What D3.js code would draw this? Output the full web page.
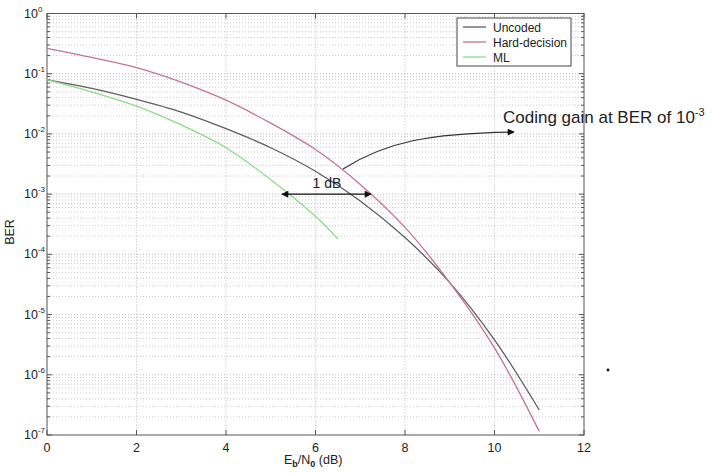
<!DOCTYPE html>
<html>
<head>
<meta charset="utf-8">
<script src="https://cdn.jsdelivr.net/npm/d3@7"></script>
<style>
  body { margin: 0; background: #fff; }
  svg { display: block; }
  text { font-family: "Liberation Sans", Arial, sans-serif; fill: #222; }
</style>
</head>
<body>
<div class="graph-pane"></div>
<script>
// Eb/N0 in dB
var snrDb = [0, 1, 2, 3, 4, 5, 6, 7, 8, 9, 10, 11];
var uncoded = [0.079, 0.057, 0.0375, 0.023, 0.0122, 0.0059, 0.0024, 7.7e-4, 1.9e-4, 3.4e-5, 3.8e-6, 2.6e-7];
var hardDecision = [0.264, 0.186, 0.126, 0.0724, 0.0363, 0.0151, 0.0055, 0.00145, 2.8e-4, 3.4e-5, 2.8e-6, 1.15e-7];
var mlDb = [0, 1, 2, 3, 4, 5, 6, 6.5];
var ml = [0.08, 0.05, 0.029, 0.0141, 0.0059, 0.00174, 4.3e-4, 1.8e-4];

var xTicks = [0, 2, 4, 6, 8, 10, 12];
var yExponents = [0, -1, -2, -3, -4, -5, -6, -7];
var legendNames = ["Uncoded", "Hard-decision", "ML"];
var legendColors = ["#5e5e5e", "#c27590", "#8fd88f"];

var width = 711, height = 475;
// (window.top is reserved, so plot edges get their own names)
var plotLeft = 47, plotRight = 584, plotTop = 13.5, plotBottom = 435;

var xScale = d3.scaleLinear().domain([0, 12]).range([plotLeft, plotRight]);
var yScale = d3.scaleLog().domain([1e-7, 1]).range([plotBottom, plotTop]);

var svg = d3.select(".graph-pane").append("svg")
  .attr("width", width)
  .attr("height", height);

// grid, dotted like matlab
var grid = svg.append("g").attr("stroke", "#bdbdbd").attr("stroke-width", 0.8)
  .attr("stroke-dasharray", "1,2");

var minorVals = [];
yExponents.slice(0, -1).forEach(function (e) {
  for (var m = 2; m <= 9; m++) minorVals.push(m * Math.pow(10, e - 1));
});

grid.selectAll(".ymin").data(minorVals).enter().append("line")
  .attr("x1", plotLeft).attr("x2", plotRight)
  .attr("y1", function (d) { return yScale(d); })
  .attr("y2", function (d) { return yScale(d); });

grid.selectAll(".ymaj").data(yExponents.slice(1, -1)).enter().append("line")
  .attr("x1", plotLeft).attr("x2", plotRight)
  .attr("y1", function (d) { return yScale(Math.pow(10, d)); })
  .attr("y2", function (d) { return yScale(Math.pow(10, d)); })
  .attr("stroke", "#a8a8a8");

grid.selectAll(".xmaj").data(xTicks.slice(1, -1)).enter().append("line")
  .attr("y1", plotTop).attr("y2", plotBottom)
  .attr("x1", function (d) { return xScale(d); })
  .attr("x2", function (d) { return xScale(d); })
  .attr("stroke", "#a8a8a8");

// frame + inward ticks
var frame = svg.append("g").attr("stroke", "#555").attr("stroke-width", 1).attr("fill", "none");
frame.append("rect").attr("x", plotLeft).attr("y", plotTop)
  .attr("width", plotRight - plotLeft).attr("height", plotBottom - plotTop);

xTicks.forEach(function (t) {
  var px = xScale(t);
  frame.append("line").attr("x1", px).attr("x2", px).attr("y1", plotBottom).attr("y2", plotBottom - 5);
  frame.append("line").attr("x1", px).attr("x2", px).attr("y1", plotTop).attr("y2", plotTop + 5);
});
yExponents.forEach(function (e) {
  var py = yScale(Math.pow(10, e));
  frame.append("line").attr("x1", plotLeft).attr("x2", plotLeft + 5).attr("y1", py).attr("y2", py);
  frame.append("line").attr("x1", plotRight).attr("x2", plotRight - 5).attr("y1", py).attr("y2", py);
});
minorVals.forEach(function (v) {
  var py = yScale(v);
  frame.append("line").attr("x1", plotLeft).attr("x2", plotLeft + 3).attr("y1", py).attr("y2", py);
  frame.append("line").attr("x1", plotRight).attr("x2", plotRight - 3).attr("y1", py).attr("y2", py);
});

// tick labels
svg.selectAll(".xt").data(xTicks).enter().append("text")
  .attr("x", function (d) { return xScale(d); })
  .attr("y", 452)
  .attr("text-anchor", "middle")
  .attr("font-size", 12.5)
  .text(function (d) { return d; });

var yt = svg.selectAll(".yt").data(yExponents).enter().append("text")
  .attr("x", 24)
  .attr("y", function (d) { return yScale(Math.pow(10, d)) + 4; })
  .attr("font-size", 12.5);
yt.append("tspan").text("10");
yt.append("tspan").attr("dy", -6).attr("font-size", 8)
  .text(function (d) { return d === 0 ? "0" : "-" + (-d); });

// axis titles
svg.append("text")
  .attr("transform", "translate(14," + 232 + ") rotate(-90)")
  .attr("text-anchor", "middle")
  .attr("font-size", 12.5)
  .text("BER");

var xl = svg.append("text").attr("x", 284).attr("y", 464).attr("font-size", 12.5);
xl.append("tspan").text("E");
xl.append("tspan").attr("dy", 3).attr("font-size", 9).attr("font-weight", "bold").text("b");
xl.append("tspan").attr("dy", -3).text("/N");
xl.append("tspan").attr("dy", 3).attr("font-size", 9).attr("font-weight", "bold").text("0");
xl.append("tspan").attr("dy", -3).text(" (dB)");

// curves
var line = d3.line()
  .x(function (d) { return xScale(d[0]); })
  .y(function (d) { return yScale(d[1]); })
  .curve(d3.curveCatmullRom.alpha(0.5));

var series = [
  d3.zip(snrDb, uncoded),
  d3.zip(snrDb, hardDecision),
  d3.zip(mlDb, ml)
];
svg.selectAll(".curve").data(series).enter().append("path")
  .attr("fill", "none")
  .attr("stroke", function (d, i) { return legendColors[i]; })
  .attr("stroke-width", 1.3)
  .attr("d", line);

// legend
var lg = svg.append("g");
lg.append("rect").attr("x", 457).attr("y", 18).attr("width", 114).attr("height", 48)
  .attr("fill", "#fff").attr("stroke", "#444");
legendNames.forEach(function (n, i) {
  var ly = 27 + i * 15;
  lg.append("line").attr("x1", 463).attr("x2", 486).attr("y1", ly).attr("y2", ly)
    .attr("stroke", legendColors[i]).attr("stroke-width", 1.3);
  lg.append("text").attr("x", 493).attr("y", ly + 4.5).attr("font-size", 12).text(n);
});

// annotations
svg.append("defs").append("marker")
  .attr("id", "head").attr("viewBox", "0 0 10 10")
  .attr("refX", 9).attr("refY", 5)
  .attr("markerWidth", 9).attr("markerHeight", 7)
  .attr("markerUnits", "userSpaceOnUse")
  .attr("orient", "auto-start-reverse")
  .append("path").attr("d", "M0,0L10,5L0,10z").attr("fill", "#111");

var gainY = yScale(1e-3);
svg.append("line")
  .attr("x1", 282).attr("x2", 371).attr("y1", gainY).attr("y2", gainY)
  .attr("stroke", "#111").attr("stroke-width", 1.2)
  .attr("marker-start", "url(#head)").attr("marker-end", "url(#head)");
svg.append("text").attr("x", 327).attr("y", gainY - 6)
  .attr("text-anchor", "middle").attr("font-size", 14)
  .text("1 dB");

svg.append("path")
  .attr("d", "M343,169C385,142 430,133 514,132")
  .attr("fill", "none").attr("stroke", "#333").attr("stroke-width", 1.2)
  .attr("marker-end", "url(#head)");

var cg = svg.append("text").attr("x", 503).attr("y", 123)
  .attr("font-size", 17);
cg.append("tspan").text("Coding gain at BER of 10");
cg.append("tspan").attr("dy", -7).attr("font-size", 11).text("-3");

svg.append("circle").attr("cx", 608).attr("cy", 370).attr("r", 1.4).attr("fill", "#111");
</script>
</body>
</html>
